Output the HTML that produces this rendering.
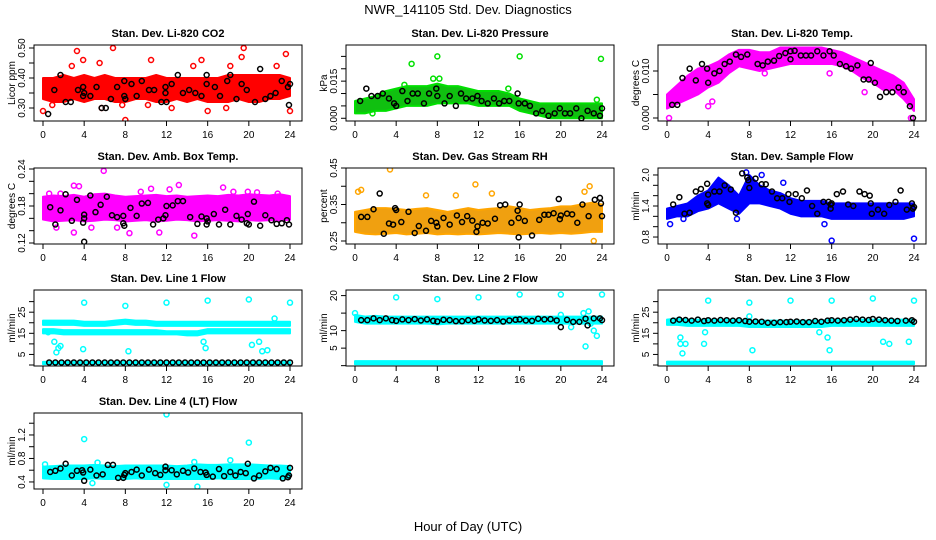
<!DOCTYPE html>
<html><head><meta charset="utf-8"><style>
html,body{margin:0;padding:0;background:#fff}
svg{display:block;font-family:"Liberation Sans",sans-serif}
</style></head><body>
<svg id="chart" width="936" height="540" viewBox="0 0 936 540">
<defs>
<pattern id="dots" width="4" height="4" patternUnits="userSpaceOnUse"><rect width="4" height="4" fill="currentColor"/></pattern>
</defs>
<text x="468" y="14" text-anchor="middle" font-size="13">NWR_141105  Std. Dev. Diagnostics</text>
<text x="468" y="531" text-anchor="middle" font-size="13">Hour of Day (UTC)</text>
</svg>
<script>
const hours=[0,1,2,3,4,5,6,7,8,9,10,11,12,13,14,15,16,17,18,19,20,21,22,23,24];
const xTicks=[0,4,8,12,16,20,24];
// CO2
const co2Lo=[0.33,0.32,0.32,0.33,0.32,0.33,0.33,0.32,0.32,0.33,0.33,0.32,0.32,0.33,0.32,0.33,0.32,0.32,0.32,0.33,0.32,0.32,0.33,0.33,0.34];
const co2Hi=[0.40,0.40,0.41,0.40,0.41,0.40,0.41,0.40,0.40,0.40,0.40,0.41,0.40,0.40,0.40,0.40,0.40,0.40,0.41,0.41,0.41,0.41,0.41,0.41,0.40];
const co2Out=[[0,0.29],[3.3,0.49],[3.9,0.46],[6.8,0.50],[8,0.26],[10.5,0.46],[15.4,0.46],[19.5,0.50],[19.3,0.47],[23.6,0.48],[24,0.29],[5.7,0.30],[7.7,0.31],[16,0.29],[14.6,0.44],[17.8,0.30],[12.5,0.30],[2.8,0.44],[5.5,0.45],[18.2,0.44],[22.7,0.44],[0.9,0.31],[10.2,0.31]];
const co2Blk=[[0.5,0.28],[1.1,0.36],[1.7,0.41],[2.2,0.32],[2.7,0.32],[3.4,0.36],[3.9,0.37],[3.9,0.34],[4,0.35],[4.6,0.34],[5.2,0.37],[5.7,0.30],[6.1,0.30],[6.6,0.33],[7.2,0.37],[7.9,0.39],[7.9,0.34],[8,0.33],[8.6,0.38],[9.1,0.34],[9.6,0.39],[10.3,0.36],[10.8,0.36],[11.5,0.32],[11.9,0.37],[11.9,0.35],[12,0.32],[12.5,0.38],[13.1,0.41],[13.6,0.35],[14.2,0.36],[14.8,0.35],[15.4,0.34],[15.9,0.41],[15.9,0.38],[16.7,0.37],[17.2,0.34],[17.9,0.39],[18.2,0.41],[18.8,0.33],[19.3,0.38],[19.8,0.36],[20.6,0.32],[21.1,0.43],[21.6,0.33],[22.1,0.34],[22.6,0.35],[23.2,0.39],[23.8,0.37],[23.9,0.31],[24,0.38]];
// Pressure
const prLo=[0.002,0.002,0.003,0.003,0.004,0.005,0.005,0.005,0.006,0.006,0.006,0.006,0.005,0.005,0.005,0.005,0.003,0.002,0.001,0.000,0.000,0.000,0.000,0.000,0.000];
const prHi=[0.007,0.008,0.009,0.011,0.012,0.013,0.013,0.013,0.014,0.013,0.013,0.012,0.011,0.011,0.011,0.010,0.008,0.007,0.006,0.006,0.006,0.006,0.006,0.006,0.006];
const prOut=[[5.5,0.022],[8,0.025],[16,0.025],[23.9,0.024],[7.6,0.016],[8.2,0.016],[1.7,0.002],[14.9,0.012],[4.8,0.0135],[23.5,0.0075]];
const prBlk=[[0.5,0.007],[1.1,0.012],[1.6,0.009],[2.2,0.009],[2.7,0.010],[3.3,0.008],[3.8,0.006],[4,0.005],[4.6,0.011],[5.1,0.007],[5.6,0.010],[6.1,0.010],[6.7,0.006],[7.2,0.010],[7.9,0.012],[8,0.009],[8.7,0.006],[9.2,0.009],[9.8,0.005],[10.3,0.010],[10.8,0.008],[11.4,0.008],[11.9,0.009],[12.3,0.007],[12.9,0.006],[13.5,0.008],[14,0.006],[14.5,0.007],[15,0.007],[15.8,0.010],[15.9,0.006],[16.5,0.006],[17,0.005],[17.6,0.002],[18.2,0.003],[18.8,0.001],[19.4,0.002],[19.9,0.004],[20.4,0.002],[20.9,0.002],[21.5,0.004],[22,0.000],[22.6,0.003],[23.2,0.002],[23.8,0.001],[24,0.004]];
// Li-820 temp
const tpLo=[0.002,0.003,0.004,0.005,0.0065,0.0075,0.0095,0.011,0.0105,0.010,0.0105,0.011,0.0115,0.0115,0.0115,0.0115,0.0115,0.011,0.010,0.0085,0.0075,0.006,0.006,0.004,0.0015];
const tpHi=[0.005,0.007,0.009,0.0105,0.011,0.012,0.0135,0.0145,0.0145,0.014,0.014,0.015,0.015,0.015,0.015,0.015,0.0145,0.014,0.013,0.012,0.011,0.010,0.009,0.0075,0.004];
const tpOut=[[0.2,0],[23.7,0],[4,0.0025],[4.4,0.0035],[9.5,0.0095],[15.8,0.0095],[19.2,0.0055],[0.4,0.004],[2.8,0.007]];
const tpBlk=[[0.5,0.0028],[1,0.0028],[1.5,0.0085],[2.2,0.0105],[2.8,0.008],[3.4,0.0115],[3.9,0.0105],[4,0.0075],[4.6,0.0095],[5.1,0.010],[5.6,0.0115],[6.1,0.012],[6.7,0.0135],[7.2,0.013],[7.8,0.0135],[8.8,0.0115],[9.3,0.0112],[9.8,0.012],[10.4,0.0122],[10.9,0.0132],[11.5,0.0138],[12,0.0142],[12,0.0125],[12.4,0.0143],[13,0.0133],[13.5,0.0133],[14,0.0133],[14.6,0.0142],[15.2,0.0133],[15.8,0.0142],[16.2,0.0133],[16.8,0.0115],[17.4,0.011],[17.9,0.0105],[18.5,0.0112],[19.1,0.0082],[19.6,0.0082],[19.8,0.0117],[20.2,0.0075],[20.7,0.0045],[21.3,0.0055],[21.9,0.0055],[22.5,0.0065],[23,0.0055],[23.6,0.0025],[23.9,0.0]];
// Amb box temp
const abLo=[0.158,0.155,0.156,0.157,0.155,0.156,0.158,0.157,0.155,0.156,0.157,0.155,0.156,0.158,0.157,0.155,0.156,0.157,0.156,0.155,0.157,0.156,0.157,0.156,0.158];
const abHi=[0.195,0.197,0.196,0.198,0.195,0.199,0.200,0.197,0.195,0.196,0.197,0.198,0.196,0.197,0.195,0.196,0.197,0.196,0.198,0.197,0.199,0.198,0.197,0.199,0.196];
const abOut=[[5.9,0.237],[3,0.213],[3.5,0.212],[13.2,0.214],[0.6,0.200],[1.7,0.200],[10.5,0.208],[12.3,0.207],[17.5,0.210],[18.5,0.203],[19.9,0.203],[20.8,0.202],[9.5,0.203],[3,0.137],[8.4,0.136],[14.7,0.132],[1.3,0.145],[4.7,0.145],[11.3,0.137],[7.2,0.145],[22.8,0.200]];
const abBlk=[[0.7,0.178],[1.2,0.150],[1.7,0.173],[2.2,0.199],[2.8,0.156],[3.3,0.190],[3.9,0.153],[4,0.160],[4,0.122],[4,0.166],[4.6,0.197],[5.1,0.170],[5.6,0.182],[6.2,0.195],[6.7,0.165],[7.2,0.162],[7.8,0.164],[7.9,0.148],[7.8,0.152],[8.5,0.177],[9.1,0.164],[9.6,0.184],[10.2,0.185],[10.7,0.150],[11.2,0.158],[11.7,0.160],[11.9,0.165],[12,0.180],[12.6,0.181],[13.1,0.188],[13.6,0.188],[14.3,0.162],[15,0.151],[15.4,0.163],[15.9,0.160],[15.9,0.150],[16,0.155],[16.6,0.167],[17.1,0.150],[17.7,0.174],[18.2,0.150],[18.8,0.164],[19.3,0.158],[19.8,0.152],[19.9,0.167],[20,0.150],[20.5,0.187],[21.1,0.148],[21.6,0.165],[22.2,0.157],[22.7,0.151],[23.2,0.152],[23.7,0.157],[23.9,0.150]];
// RH
const rhLo=[0.275,0.270,0.268,0.270,0.272,0.268,0.270,0.272,0.268,0.270,0.268,0.270,0.268,0.270,0.272,0.270,0.268,0.270,0.272,0.270,0.272,0.270,0.272,0.275,0.275];
const rhHi=[0.330,0.335,0.340,0.340,0.338,0.335,0.338,0.340,0.335,0.330,0.335,0.340,0.335,0.338,0.340,0.345,0.340,0.335,0.338,0.340,0.345,0.345,0.350,0.355,0.350];
const rhOut=[[3.4,0.446],[11.7,0.405],[0.3,0.385],[0.6,0.390],[12.9,0.22],[7.9,0.23],[2.7,0.23],[6.4,0.23],[22.8,0.40],[23.2,0.25],[21.7,0.23],[9.8,0.375],[13.3,0.38],[6.9,0.375],[22.3,0.385]];
const rhBlk=[[0.6,0.316],[1.2,0.316],[1.8,0.337],[2.4,0.380],[2.8,0.270],[3.3,0.298],[3.7,0.295],[3.9,0.340],[4,0.335],[4.5,0.302],[5.2,0.330],[5.8,0.272],[6.2,0.291],[6.9,0.278],[7.4,0.305],[7.9,0.300],[8,0.290],[7.9,0.232],[8.6,0.313],[9.2,0.295],[9.9,0.320],[10.4,0.302],[10.9,0.318],[11.4,0.306],[11.9,0.290],[11.8,0.275],[12.4,0.300],[12.9,0.298],[13.6,0.311],[14.1,0.348],[14.6,0.350],[15.2,0.300],[15.8,0.333],[15.9,0.313],[15.9,0.260],[16,0.350],[16.5,0.305],[17.2,0.265],[17.9,0.308],[18.4,0.322],[18.8,0.322],[19.3,0.326],[19.8,0.365],[19.9,0.310],[20,0.320],[20.6,0.325],[21.1,0.323],[21.6,0.300],[22.1,0.350],[22.7,0.318],[23.3,0.363],[23.8,0.368],[23.9,0.353],[24,0.318]];
// Sample flow
const sfLo=[1.15,1.2,1.2,1.3,1.35,1.45,1.35,1.25,1.45,1.45,1.4,1.35,1.25,1.2,1.2,1.2,1.15,1.15,1.15,1.15,1.15,1.15,1.15,1.15,1.2];
const sfHi=[1.35,1.4,1.45,1.6,1.7,1.95,1.8,1.6,2.0,1.8,1.7,1.65,1.55,1.5,1.5,1.5,1.45,1.45,1.45,1.45,1.45,1.45,1.45,1.45,1.45];
const sfOut=[[16,0.73],[24,0.77],[15.3,1.05],[0.3,1.05],[7.7,2.05],[9.2,2.0],[11.3,1.85],[6.8,1.15],[1.6,1.15]];
const sfBlk=[[0.6,1.43],[1.2,1.57],[1.7,1.25],[2.2,1.27],[2.8,1.68],[3.3,1.73],[3.9,1.83],[3.9,1.45],[4,1.62],[4,1.42],[4.6,1.68],[5.1,1.68],[5.6,1.80],[6.2,1.72],[6.7,1.27],[7.3,2.03],[7.8,1.95],[7.9,1.90],[8,1.75],[8.6,1.93],[9.2,1.82],[9.6,1.82],[10.2,1.68],[10.7,1.55],[11.2,1.55],[11.8,1.63],[11.9,1.48],[12.5,1.63],[13.1,1.55],[13.6,1.70],[14.1,1.40],[14.6,1.25],[15.2,1.48],[15.7,1.48],[15.9,1.43],[15.9,1.35],[16,1.45],[16.5,1.63],[17.1,1.68],[17.6,1.43],[18.1,1.40],[18.7,1.68],[19.2,1.63],[19.7,1.60],[19.8,1.45],[19.9,1.25],[20.5,1.33],[21.1,1.25],[21.6,1.42],[22.2,1.48],[22.7,1.70],[23.3,1.33],[23.8,1.45],[23.9,1.35],[24,1.38]];
// Line 1 flow
const l1UpLo=[19,19,19,19,18.5,18.5,18.5,19,19.5,19,19,18.5,18.5,18.5,18.5,18.5,18.5,18.5,18.5,18.5,18.5,18.5,18.5,18.5,18.5];
const l1UpHi=[21,21,21,21,20.5,20.5,20.5,21,21.5,21,21,20.5,20.5,20.5,20.5,20.5,20.5,20.5,20.5,20.5,20.5,20.5,20.5,20.5,20.5];
const l1MidLo=[15,15,14.5,14.5,14.5,14.5,14.5,14.5,14.5,14.5,14.5,14.5,14.5,14.5,14,14,15,15,15,15,15,15,15,15,15];
const l1MidHi=[17,17,16.5,16.5,16.5,16.5,16.5,16.5,16.5,16.5,16.5,16.5,16,16,16,16,17,17,17,17,17,17,17,17,17];
const l1BotLo=[0.4,0.4,0.4,0.4,0.4,0.4,0.4,0.4,0.4,0.4,0.4,0.4,0.4,0.4,0.4,0.4,0.4,0.4,0.4,0.4,0.4,0.4,0.4,0.4,0.4];
const l1BotHi=[1.5,1.5,1.5,1.5,1.5,1.5,1.5,1.5,1.5,1.5,1.5,1.5,1.5,1.5,1.5,1.5,1.5,1.5,1.5,1.5,1.5,1.5,1.5,1.5,1.5];
const l1Out=[[4,29.5],[8,28],[12,29.5],[16,30.5],[20,31],[24,29.5],[1.3,6],[1.1,11],[1.5,8],[1.7,9],[3.9,7.5],[8.3,6.5],[15.8,8],[15.6,11],[20.3,9.5],[21,11],[21.3,6.5],[21.8,7],[22.5,22],[0.5,15.5]];
const l1Blk=[[0.6,1.2],[1.2,1.2],[1.8,1.2],[2.4,1.2],[3,1.2],[3.6,1.2],[4.2,1.2],[4.8,1.2],[5.4,1.2],[6,1.2],[6.6,1.2],[7.2,1.2],[7.8,1.2],[8.4,1.2],[9,1.2],[9.6,1.2],[10.2,1.2],[10.8,1.2],[11.4,1.2],[12,1.2],[12.6,1.2],[13.2,1.2],[13.8,1.2],[14.4,1.2],[15,1.2],[15.6,1.2],[16.2,1.2],[16.8,1.2],[17.4,1.2],[18,1.2],[18.6,1.2],[19.2,1.2],[19.8,1.2],[20.4,1.2],[21,1.2],[21.6,1.2],[22.2,1.2],[22.8,1.2],[23.4,1.2],[24,1.2]];
// Line 2 flow
const l2Lo=[12.5,12,12,12,12,12,12,12,11.8,12,12,12,12,12,12,12,12,12,12,12,12,12,12,12,12];
const l2Hi=[14.5,14,14.2,14,14,14,14,14,14,14,14,14,14,14,14,14,14,14,14,14,14,14,14,14,14];
const l2BotLo=[0.4,0.4,0.4,0.4,0.4,0.4,0.4,0.4,0.4,0.4,0.4,0.4,0.4,0.4,0.4,0.4,0.4,0.4,0.4,0.4,0.4,0.4,0.4,0.4,0.4];
const l2BotHi=[1.3,1.3,1.3,1.3,1.3,1.3,1.3,1.3,1.3,1.3,1.3,1.3,1.3,1.3,1.3,1.3,1.3,1.3,1.3,1.3,1.3,1.3,1.3,1.3,1.3];
const l2Out=[[0,15],[4,19.5],[8,19],[12,19.5],[16,20.3],[20,20.3],[24,20.3],[20,14.5],[21,11],[22.2,15],[22.7,15.5],[22.9,12],[23.2,10],[23.5,8.5],[22.4,5.5]];
const l2Blk=[[0.6,13],[1.2,13],[1.8,13.5],[2.4,13],[3,13.5],[3.6,13],[4,12.8],[4.6,13.2],[5.2,13],[5.8,13.3],[6.4,12.9],[7,13.2],[7.6,12.8],[8,12.6],[8.6,13.1],[9.2,13],[9.8,12.7],[10.4,12.7],[11,13],[11.6,12.8],[12,13.2],[12.6,12.9],[13.2,12.8],[13.8,13],[14.4,12.6],[15,12.9],[15.6,13.1],[16,13.2],[16.6,12.9],[17.2,12.8],[17.8,13.4],[18.4,13.2],[19,13.3],[19.6,12.9],[20,11],[20.6,13.1],[21.2,12.5],[21.8,12.5],[22.4,13.4],[22.6,11.5],[23.2,13.5],[23.8,13.5],[24,13]];
// Line 3 flow
const l3Lo=[19,19,18.5,18.5,18.5,18.5,18.5,18.5,18,18,18,18,18,18,18,18,18.5,18.5,18.5,18.5,18.5,18.5,18.5,18.5,18.5];
const l3Hi=[21.5,22,21.5,21.5,21.5,21.5,21.5,21.5,21,21,21,21,21,21,21,21,21.5,21.5,21.5,21.5,21.5,21.5,21.5,21.5,21.5];
const l3BotLo=[0.4,0.4,0.4,0.4,0.4,0.4,0.4,0.4,0.4,0.4,0.4,0.4,0.4,0.4,0.4,0.4,0.4,0.4,0.4,0.4,0.4,0.4,0.4,0.4,0.4];
const l3BotHi=[1.6,1.6,1.6,1.6,1.6,1.6,1.6,1.6,1.6,1.6,1.6,1.6,1.6,1.6,1.6,1.6,1.6,1.6,1.6,1.6,1.6,1.6,1.6,1.6,1.6];
const l3Out=[[4,30.5],[8,29.5],[12,30.5],[16,30.5],[20,31.5],[24,30.5],[1.3,13],[1.3,10],[1.5,5.5],[1.8,10],[3.6,10],[3.7,15.5],[8.3,7],[8,23],[15.6,13],[15.8,7],[21,11],[21.6,10],[23.5,11],[14.8,15.5]];
const l3Blk=[[0.6,21],[1.2,21.5],[1.8,21.3],[2.4,21],[3,21.5],[3.6,20.8],[4,21.2],[4.6,21],[5.2,21.3],[5.8,21.2],[6.4,21],[7,21.2],[7.6,20.8],[8,20.5],[8.6,20.6],[9.2,20.5],[9.8,20],[10.4,20],[11,20.3],[11.6,20.3],[12,20.5],[12.6,20.6],[13.2,20.3],[13.8,20.3],[14.4,20.8],[15,20.5],[15.6,21],[16,21.2],[16.6,21],[17.2,21.2],[17.8,21.5],[18.4,21.8],[19,21.5],[19.6,21.3],[20,21.8],[20.6,21.5],[21.2,21.2],[21.8,21],[22.4,20.8],[23.2,21],[23.8,21.2],[24,20.5]];
// Line 4 flow
const l4Lo=[0.46,0.45,0.45,0.45,0.45,0.46,0.45,0.45,0.45,0.46,0.45,0.45,0.45,0.45,0.45,0.45,0.45,0.46,0.45,0.45,0.45,0.45,0.46,0.45,0.46];
const l4Hi=[0.66,0.67,0.68,0.68,0.68,0.69,0.68,0.67,0.68,0.68,0.68,0.68,0.68,0.67,0.68,0.70,0.69,0.69,0.70,0.70,0.70,0.69,0.68,0.68,0.67];
const l4Out=[[4,1.13],[12,1.55],[20,1.07],[12,0.35],[15,0.32],[4.8,0.38],[18.2,0.77],[0.2,0.7],[5.3,0.73],[14.7,0.74]];
const l4Blk=[[0.7,0.57],[1.2,0.59],[1.7,0.63],[2.2,0.71],[2.8,0.51],[3.3,0.59],[3.8,0.60],[3.9,0.56],[4,0.42],[4.6,0.61],[5.2,0.51],[5.8,0.53],[6.3,0.69],[6.8,0.69],[7.3,0.47],[7.8,0.47],[7.9,0.52],[8,0.55],[8.6,0.57],[9.1,0.61],[9.6,0.51],[10.3,0.61],[10.9,0.55],[11.4,0.52],[11.9,0.60],[11.9,0.66],[12.5,0.60],[13,0.53],[13.6,0.59],[14.1,0.56],[14.7,0.63],[15.3,0.57],[15.8,0.56],[15.9,0.52],[16.5,0.49],[17.1,0.62],[17.6,0.50],[18.2,0.57],[18.7,0.51],[19.2,0.57],[19.7,0.55],[19.9,0.71],[20.5,0.46],[21,0.51],[21.6,0.58],[22.1,0.64],[22.7,0.62],[23.3,0.46],[23.8,0.48],[23.9,0.51],[24,0.64]];

const NS='http://www.w3.org/2000/svg';
const svg=document.getElementById('chart');
const TOPS=[45,168,290,413];
function mk(tag,attrs,parent){const e=document.createElementNS(NS,tag);for(const k in attrs)e.setAttribute(k,attrs[k]);(parent||svg).appendChild(e);return e;}

function panel(c){
  const L=34+312*c.col, T=TOPS[c.row], W=268, H=76;
  const g=mk('g',{});
  
  
  const xs=h=>L+9+h*(247/24);
  const ys=v=>T+H-(v-c.ymin)/(c.ymax-c.ymin)*H;
  const clip=mk('clipPath',{id:'clip-'+c.id},g);
  mk('rect',{x:L,y:T,width:W,height:H},clip);
  const plot=mk('g',{'clip-path':'url(#clip-'+c.id+')'},g);
  (c.bands||[]).forEach((b,bi)=>{
    let pts=[];
    hours.forEach((h,i)=>pts.push(xs(h)+','+ys(b[1][i])));
    for(let i=hours.length-1;i>=0;i--)pts.push(xs(hours[i])+','+ys(b[0][i]));
    const p=mk('polygon',{points:pts.join(' '),fill:c.fill||c.color,stroke:c.color,'stroke-width':2,'stroke-linejoin':'round'},plot);
    
    
  });
  c.out.forEach(d=>{
    const e=mk('circle',{cx:xs(d[0]),cy:ys(d[1]),r:2.5,fill:'none',stroke:c.color,'stroke-width':1.5},plot);
    
    
  });
  c.blk.forEach(d=>{
    const e=mk('circle',{cx:xs(d[0]),cy:ys(d[1]),r:2.5,fill:'none',stroke:'#000','stroke-width':1.5},plot);
    
    
  });
  const box=mk('rect',{x:L,y:T,width:W,height:H,fill:'none',stroke:'#000','stroke-width':1},g);
  
  
  const t=mk('text',{x:L+W/2,y:T-8,'text-anchor':'middle','font-size':11,'font-weight':'bold'},g);
  t.textContent=c.title;
  
  
  xTicks.forEach(h=>{
    mk('line',{x1:xs(h),x2:xs(h),y1:T+H,y2:T+H+5,stroke:'#000'},g);
    const tx=mk('text',{x:xs(h),y:T+H+17,'text-anchor':'middle','font-size':10},g);
    tx.textContent=h;
    
    
  });
  c.ticks.forEach((v,i)=>{
    const y=ys(v);
    mk('line',{x1:L-5,x2:L,y1:y,y2:y,stroke:'#000'},g);
    if(c.labels[i]){
      const tx=mk('text',{x:L-9,y:y,'text-anchor':'middle','font-size':10,transform:'rotate(-90 '+(L-9)+' '+y+')'},g);
      tx.textContent=c.labels[i];
      
      
    }
  });
  const yl=mk('text',{x:L-19,y:T+H/2,'text-anchor':'middle','font-size':10,transform:'rotate(-90 '+(L-19)+' '+(T+H/2)+')'},g);
  yl.textContent=c.ylab;
  
  
}

panel({id:'co2',col:0,row:0,title:'Stan. Dev. Li-820 CO2',ylab:'Licor ppm',color:'#ff0000',ymin:0.2567,ymax:0.51,ticks:[0.30,0.35,0.40,0.45,0.50],labels:['0.30','','0.40','','0.50'],bands:[[co2Lo,co2Hi]],out:co2Out,blk:co2Blk});
panel({id:'pressure',col:1,row:0,title:'Stan. Dev. Li-820 Pressure',ylab:'kPa',color:'#00e000',fill:'#10c010',ymin:-0.0011,ymax:0.0296,ticks:[0,0.005,0.010,0.015,0.020,0.025],labels:['0.000','','','0.015','',''],bands:[[prLo,prHi]],out:prOut,blk:prBlk});
panel({id:'li820-temp',col:2,row:0,title:'Stan. Dev. Li-820 Temp.',ylab:'degrees C',color:'#ff00ff',ymin:-0.00064,ymax:0.01553,ticks:[0,0.005,0.010],labels:['0.000','','0.010'],bands:[[tpLo,tpHi]],out:tpOut,blk:tpBlk});
panel({id:'amb-box-temp',col:0,row:1,title:'Stan. Dev. Amb. Box Temp.',ylab:'degrees C',color:'#ff00ff',ymin:0.1184,ymax:0.2416,ticks:[0.12,0.14,0.16,0.18,0.20,0.22,0.24],labels:['0.12','','','0.18','','','0.24'],bands:[[abLo,abHi]],out:abOut,blk:abBlk});
panel({id:'gas-rh',col:1,row:1,title:'Stan. Dev. Gas Stream RH',ylab:'percent',color:'#ffa500',fill:'#f0a010',ymin:0.2418,ymax:0.45,ticks:[0.25,0.30,0.35,0.40,0.45],labels:['0.25','','0.35','','0.45'],bands:[[rhLo,rhHi]],out:rhOut,blk:rhBlk});
panel({id:'sample-flow',col:2,row:1,title:'Stan. Dev. Sample Flow',ylab:'ml/min',color:'#0000ff',ymin:0.665,ymax:2.135,ticks:[0.8,1.0,1.2,1.4,1.6,1.8,2.0],labels:['0.8','','','1.4','','','2.0'],bands:[[sfLo,sfHi]],out:sfOut,blk:sfBlk});
panel({id:'line1-flow',col:0,row:2,title:'Stan. Dev. Line 1 Flow',ylab:'ml/min',color:'#00ffff',ymin:-0.47,ymax:35.5,ticks:[0,5,10,15,20,25,30],labels:['','5','','15','','25',''],bands:[[l1UpLo,l1UpHi],[l1MidLo,l1MidHi],[l1BotLo,l1BotHi]],out:l1Out,blk:l1Blk});
panel({id:'line2-flow',col:1,row:2,title:'Stan. Dev. Line 2 Flow',ylab:'ml/min',color:'#00ffff',ymin:-0.1,ymax:21.6,ticks:[0,5,10,15,20],labels:['','5','10','','20'],bands:[[l2Lo,l2Hi],[l2BotLo,l2BotHi]],out:l2Out,blk:l2Blk});
panel({id:'line3-flow',col:2,row:2,title:'Stan. Dev. Line 3 Flow',ylab:'ml/min',color:'#00ffff',ymin:-0.47,ymax:35.5,ticks:[0,5,10,15,20,25,30],labels:['','5','','15','','25',''],bands:[[l3Lo,l3Hi],[l3BotLo,l3BotHi]],out:l3Out,blk:l3Blk});
panel({id:'line4-flow',col:0,row:3,title:'Stan. Dev. Line 4 (LT) Flow',ylab:'ml/min',color:'#00ffff',ymin:0.28,ymax:1.574,ticks:[0.4,0.6,0.8,1.0,1.2,1.4],labels:['0.4','','0.8','','1.2',''],bands:[[l4Lo,l4Hi]],out:l4Out,blk:l4Blk});
</script>
</body></html>
